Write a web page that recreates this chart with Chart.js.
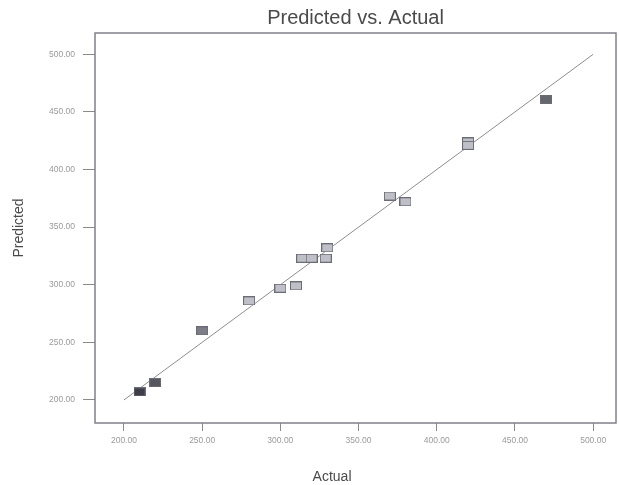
<!DOCTYPE html>
<html>
<head>
<meta charset="utf-8">
<script src="https://cdn.jsdelivr.net/npm/chart.js@4.4.1/dist/chart.umd.min.js"></script>
<style>
  html, body { margin: 0; padding: 0; background: #ffffff; overflow: hidden; }
  #wrap { width: 619px; height: 485px; overflow: hidden; }
</style>
</head>
<body>
<div id="wrap"><canvas id="c" width="623" height="485"></canvas></div>
<script>
// Observed (actual) vs. model-predicted responses
const actual    = [210, 220, 250, 280, 300, 310, 314, 320, 329, 330, 370, 380, 420, 420, 470];
const predicted = [207, 215, 260, 286, 297, 299, 323, 323, 323, 332, 377, 372, 424, 421, 461];

// Ideal-fit diagonal (predicted = actual) end values
const fitLine = [200, 500];

// Axis tick values
const xTicks = [200, 250, 300, 350, 400, 450, 500];
const yTicks = [200, 250, 300, 350, 400, 450, 500];

const FONT = 'Liberation Sans, Arial, sans-serif';

// Marker shading by response level (low / high values darker)
function shadeFor(v) {
  if (v <= 212) return '#3e3e4a';
  if (v <= 225) return '#56565f';
  if (v <= 260) return '#7d7d87';
  if (v >= 450) return '#66666e';
  return '#bfbfc7';
}

function makeBox(fill) {
  const w = 12, h = 9;
  const cv = document.createElement('canvas');
  cv.width = w; cv.height = h;
  const g = cv.getContext('2d');
  g.fillStyle = fill;
  g.fillRect(0, 0, w, h);
  g.strokeStyle = '#6c6c76';
  g.lineWidth = 1;
  g.strokeRect(0.5, 0.5, w - 1, h - 1);
  return cv;
}

const points = actual.map((a, i) => ({ x: a, y: predicted[i] }));
const boxes = actual.map(a => makeBox(shadeFor(a)));

// Box around the plotting area plus the horizontal axis caption
const framePlugin = {
  id: 'frame',
  afterDraw(chart) {
    const { ctx, chartArea: a } = chart;
    ctx.save();
    ctx.strokeStyle = '#80808a';
    ctx.lineWidth = 1.5;
    ctx.strokeRect(a.left, a.top, a.right - a.left, a.bottom - a.top);
    ctx.fillStyle = '#4a4a4a';
    ctx.font = '14px ' + FONT;
    ctx.textAlign = 'center';
    ctx.textBaseline = 'middle';
    ctx.fillText('Actual', a.left + (a.right - a.left) * 0.455, 477);
    ctx.restore();
  }
};

const tickFont = { family: FONT, size: 8.5 };

new Chart(document.getElementById('c'), {
  type: 'scatter',
  data: {
    datasets: [
      {
        type: 'line',
        data: [{ x: fitLine[0], y: fitLine[0] }, { x: fitLine[1], y: fitLine[1] }],
        borderColor: '#8e8e92',
        borderWidth: 1,
        pointRadius: 0,
        fill: false,
        order: 2
      },
      {
        data: points,
        pointStyle: boxes,
        pointRadius: 6,
        order: 1
      }
    ]
  },
  options: {
    responsive: false,
    animation: false,
    devicePixelRatio: 1,
    layout: { padding: 0 },
    plugins: {
      legend: { display: false },
      tooltip: { enabled: false },
      title: {
        display: true,
        text: 'Predicted vs. Actual',
        fullSize: false,
        color: '#4a4a4a',
        font: { family: FONT, size: 20, weight: 'normal' },
        padding: { top: 6, bottom: 3 }
      }
    },
    scales: {
      x: {
        type: 'linear',
        min: 181.5,
        max: 514.6,
        afterFit(s) { s.height = 62; },
        afterBuildTicks(s) { s.ticks = xTicks.map(v => ({ value: v })); },
        ticks: {
          color: '#9a9a9a',
          font: tickFont,
          padding: 5,
          maxRotation: 0,
          callback: v => v.toFixed(2)
        },
        grid: { drawOnChartArea: false, drawTicks: true, tickLength: 8, color: '#8a8a8a' },
        border: { display: false },
        title: { display: false }
      },
      y: {
        type: 'linear',
        min: 180,
        max: 518.5,
        afterFit(s) { s.width = 95; },
        afterBuildTicks(s) { s.ticks = yTicks.map(v => ({ value: v })); },
        ticks: {
          color: '#9a9a9a',
          font: tickFont,
          padding: 8,
          callback: v => v.toFixed(2)
        },
        grid: { drawOnChartArea: false, drawTicks: true, tickLength: 12, color: '#8a8a8a' },
        border: { display: false },
        title: {
          display: true,
          text: 'Predicted',
          color: '#4a4a4a',
          font: { family: FONT, size: 14 },
          padding: { top: 11, bottom: 0 }
        }
      }
    }
  },
  plugins: [framePlugin]
});
</script>
</body>
</html>
